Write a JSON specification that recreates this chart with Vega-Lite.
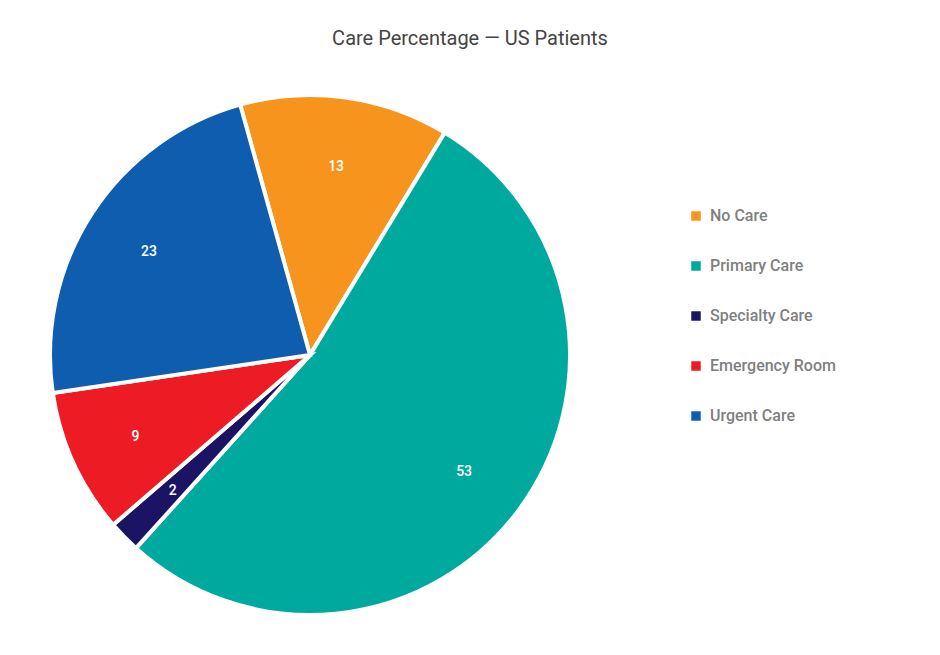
{
  "$schema": "https://vega.github.io/schema/vega-lite/v6.json",
  "width": 520,
  "height": 520,
  "autosize": {"type": "none"},
  "padding": {"left": 50, "top": 95, "right": 370, "bottom": 40},
  "background": "white",
  "title": {
    "text": "Care Percentage — US Patients",
    "anchor": "middle",
    "frame": "group",
    "dx": 160,
    "offset": 38,
    "font": "Roboto",
    "fontSize": 20,
    "fontWeight": "normal",
    "color": "#444444"
  },
  "data": {
    "values": [
      {"idx": 1, "care": "No Care", "value": 13},
      {"idx": 2, "care": "Primary Care", "value": 53},
      {"idx": 3, "care": "Specialty Care", "value": 2},
      {"idx": 4, "care": "Emergency Room", "value": 9},
      {"idx": 5, "care": "Urgent Care", "value": 23}
    ]
  },
  "encoding": {
    "theta": {"field": "value", "type": "quantitative", "stack": true, "scale": {"range": [-0.272, 6.0112]}},
    "order": {"field": "idx", "type": "quantitative"}
  },
  "layer": [
    {
      "mark": {"type": "arc", "outerRadius": 260, "stroke": "white", "strokeWidth": 4},
      "encoding": {
        "color": {
          "field": "care",
          "type": "nominal",
          "scale": {
            "domain": ["No Care", "Primary Care", "Specialty Care", "Emergency Room", "Urgent Care"],
            "range": ["#F7941D", "#00A99D", "#1B1464", "#ED1C24", "#0F5DAE"]
          },
          "legend": {
            "title": null,
            "orient": "none",
            "legendX": 638,
            "legendY": 113,
            "symbolType": "square",
            "symbolSize": 90,
            "symbolStrokeWidth": 0,
            "labelFont": "Roboto",
            "labelFontSize": 16,
            "labelFontWeight": 500,
            "labelColor": "#7f7f7f",
            "labelOffset": 6,
            "rowPadding": 34,
            "labelLimit": 300
          }
        }
      }
    },
    {
      "mark": {"type": "text", "radius": 192, "baseline": "middle", "dy": 2, "font": "Roboto", "fontSize": 14, "fontWeight": 500, "color": "white"},
      "encoding": {
        "text": {"field": "value", "type": "quantitative"}
      }
    }
  ]
}
